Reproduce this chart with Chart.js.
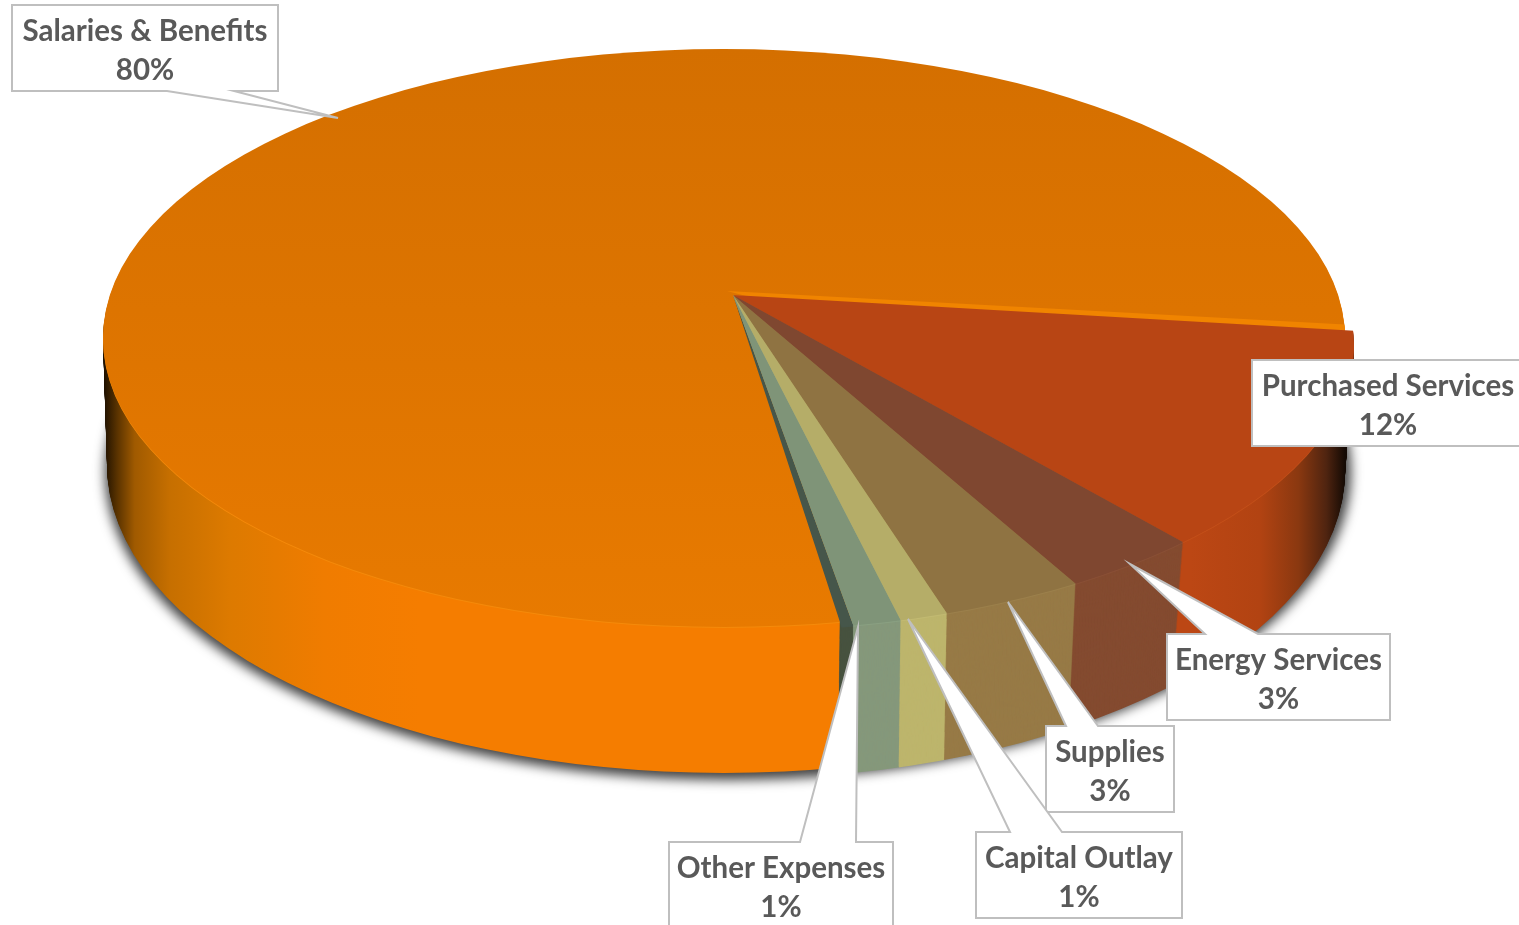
<!DOCTYPE html>
<html>
<head>
  <title>Expenditures</title>
  <script src="https://cdn.jsdelivr.net/npm/chart.js"></script>
  <style>
    body { margin: 0; background: #fff; overflow: hidden; }
    canvas { display: block; }
  </style>
</head>
<body>
  <canvas id="myPieChart" width="1519" height="925"></canvas>

  <script>
    const categories = ['Salaries & Benefits', 'Purchased Services', 'Energy Services', 'Supplies', 'Capital Outlay', 'Other Expenses'];
    const shares = [80, 12, 3, 3, 1, 1];

    const topColors = ['#d87000', '#b84514', '#7f4730', '#8f7342', '#b5ad68', '#7f9478'];
    const rimColors = ['#f58a0a', '#c4501a', '#8a5036', '#9c804c', '#c2ba72', '#8aa082'];
    const wallColors = ['#f47c00', '#b84514', '#844b30', '#977a46', '#bdb56c', '#85987b'];

    // callout boxes, one per category
    const callouts = [
      { x: 12, y: 5, w: 266, h: 86, tip: [338, 118], base: [234, 167] },
      { x: 1252, y: 360, w: 290, h: 86, textX: 1388 },
      { x: 1167, y: 634, w: 223, h: 86, tip: [1130, 564], base: [1205, 1258] },
      { x: 1046, y: 726, w: 128, h: 86, tip: [1008, 602], base: [1066, 1098] },
      { x: 976, y: 832, w: 206, h: 86, tip: [908, 619], base: [1010, 1062] },
      { x: 669, y: 842, w: 224, h: 120, tip: [858, 627], base: [800, 856] }
    ];

    // rim ellipses of the disc, top face and bottom face
    const mainRim = { top: { x: 724, y: 339, rx: 621, ry: 289 }, bottom: { x: 724, y: 465, rx: 617, ry: 308 } };
    const splitRim = { top: { x: 733, y: 347, rx: 621, ry: 285 }, bottom: { x: 733, y: 471, rx: 612, ry: 308 } };
    const apex = { x: 733, y: 296 };
    const depth = 143;

    // tilt of the disc: flat angle -> on-screen angle around the apex
    const tilt = { d: 649, b: 282, c: 0.152, skew: -0.0625, narrow: 0.02 };

    function screenAngle(a, t) {
      const u = Math.cos(a), v = Math.sin(a);
      const w = 1 - tilt.c * v;
      const y = tilt.b * v / w;
      const x = tilt.d * u / w + tilt.skew * y;
      return Math.atan2(y, x * (1 - tilt.narrow * t));
    }

    function lerpRim(rim, t) {
      const out = {};
      for (const k of ['x', 'y', 'rx', 'ry']) out[k] = rim.top[k] + (rim.bottom[k] - rim.top[k]) * t;
      return out;
    }

    function wedge(ctx, source, cx, cy, a0, a1, fill, rim) {
      while (a1 < a0) a1 += Math.PI * 2;
      const arc = new Chart.ArcElement({
        x: cx, y: cy, startAngle: a0, endAngle: a1, circumference: a1 - a0,
        innerRadius: 0, outerRadius: 2200,
        options: Object.assign({}, source.options, { backgroundColor: fill, borderWidth: 0, offset: 0 })
      });
      ctx.save();
      ctx.beginPath();
      ctx.ellipse(rim.x, rim.y, rim.rx, rim.ry, 0, 0, Math.PI * 2);
      ctx.clip();
      arc.draw(ctx);
      ctx.restore();
    }

    function drawLayer(ctx, arcs, t, fills, isTop) {
      const cx = apex.x, cy = apex.y + depth * t;
      const main = lerpRim(mainRim, t), split = lerpRim(splitRim, t);
      const first = arcs[0];
      const a0 = screenAngle(first.startAngle, t), a1 = screenAngle(first.endAngle, t);
      wedge(ctx, first, cx, cy, a0, a1, fills[0], main);
      if (isTop) {
        // lit cut face along the top of the split part
        wedge(ctx, first, 727, 292, a1 - 0.003, a1 + 0.2, '#f08400', main);
      }
      // dark cut face next to the last small slice
      wedge(ctx, first, cx, cy, a0, a0 + 0.033, isTop ? '#46564a' : '#47523f', split);
      for (let i = 1; i < arcs.length; i++) {
        const s = screenAngle(arcs[i].startAngle, t);
        wedge(ctx, arcs[i], cx, cy, s, screenAngle(arcs[i].endAngle, t), fills[i], split);
      }
    }

    function wallFills(ctx) {
      const left = ctx.createLinearGradient(103, 0, 420, 0);
      const stops = [[0, '#1a0e00'], [0.045, '#5a3300'], [0.1, '#a05a00'], [0.21, '#c66f00'], [0.4, '#dd7a00'], [0.7, '#f07c00'], [1, '#f57d00']];
      stops.forEach(s => left.addColorStop(s[0], s[1]));
      const right = ctx.createLinearGradient(1190, 0, 1345, 0);
      const stops2 = [[0, '#bc4714'], [0.45, '#b24312'], [0.7, '#8a3810'], [0.88, '#4f2410'], [1, '#140a04']];
      stops2.forEach(s => right.addColorStop(s[0], s[1]));
      const fills = wallColors.slice();
      fills[0] = left;
      fills[1] = right;
      return fills;
    }

    const disc3d = {
      id: 'disc3d',
      beforeDatasetsDraw(chart) {
        const ctx = chart.ctx;
        const arcs = chart.getDatasetMeta(0).data;

        // soft shadow under the disc, cast from a shape parked off the canvas
        ctx.save();
        ctx.shadowColor = 'rgba(0,0,0,0.75)';
        ctx.shadowBlur = 12;
        ctx.shadowOffsetX = 3000;
        ctx.fillStyle = '#000';
        ctx.beginPath();
        ctx.ellipse(728 - 3000, 472, 623, 308, 0, 0, Math.PI * 2);
        ctx.fill();
        ctx.restore();

        const walls = wallFills(ctx);
        for (let h = depth; h >= 1; h--) drawLayer(ctx, arcs, h / depth, walls, false);
        drawLayer(ctx, arcs, 0, rimColors, true);

        const topFills = topColors.slice();
        const grad = ctx.createLinearGradient(0, 50, 0, 628);
        grad.addColorStop(0, '#d46f00');
        grad.addColorStop(1, '#e87a00');
        topFills[0] = grad;
        ctx.save();
        ctx.translate(0, -1);
        drawLayer(ctx, arcs, 0, topFills, true);
        ctx.restore();
        return false;
      },
      afterDraw(chart) {
        const ctx = chart.ctx;
        ctx.save();
        callouts.forEach((c, i) => {
          const pts = [[c.x, c.y], [c.x + c.w, c.y], [c.x + c.w, c.y + c.h], [c.x, c.y + c.h]];
          if (c.tip) {
            const onTop = c.tip[1] < c.y;
            const edge = onTop ? c.y : c.y + c.h;
            const notch = [[c.base[0], edge], c.tip, [c.base[1], edge]];
            pts.splice(onTop ? 1 : 3, 0, ...notch);
          }
          ctx.beginPath();
          pts.forEach((p, n) => n ? ctx.lineTo(p[0], p[1]) : ctx.moveTo(p[0], p[1]));
          ctx.closePath();
          ctx.fillStyle = '#fff';
          ctx.fill();
          ctx.strokeStyle = '#bfbfbf';
          ctx.lineWidth = 2;
          ctx.lineJoin = 'miter';
          ctx.stroke();

          ctx.fillStyle = '#595959';
          ctx.font = 'bold 29.5px Lato';
          ctx.textAlign = 'center';
          ctx.textBaseline = 'middle';
          const tx = c.textX || c.x + c.w / 2;
          ctx.fillText(categories[i], tx, c.y + 26);
          ctx.fillText(shares[i] + '%', tx, c.y + 65);
        });
        ctx.restore();
      }
    };

    new Chart(document.getElementById('myPieChart').getContext('2d'), {
      type: 'pie',
      data: {
        labels: categories,
        datasets: [{ data: shares, backgroundColor: topColors, borderWidth: 0 }]
      },
      options: {
        responsive: false,
        animation: false,
        rotation: 169.5,
        plugins: { legend: { display: false }, tooltip: { enabled: false } }
      },
      plugins: [disc3d]
    });
  </script>
</body>
</html>
